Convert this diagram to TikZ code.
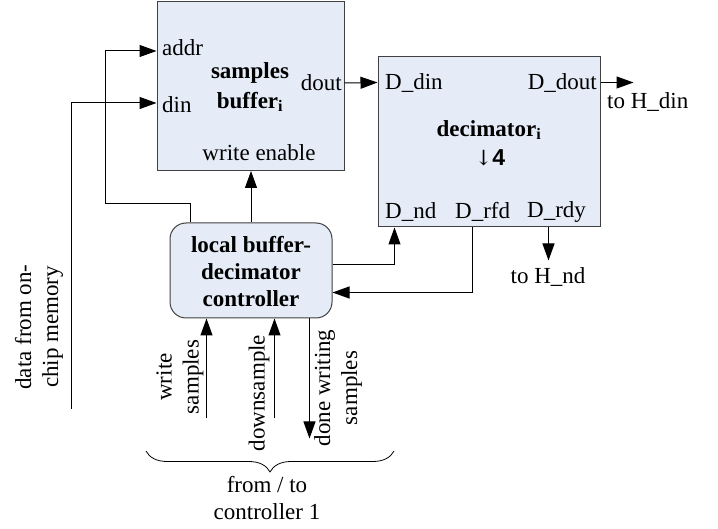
\documentclass[tikz,border=0pt]{standalone}
\usepackage{fontspec}
\setmainfont{Liberation Serif}
\newfontfamily\arialfont{Liberation Sans}
\newfontfamily\arrowfont{DejaVu Serif}
\usetikzlibrary{arrows.meta,calc,decorations.pathreplacing}
\definecolor{boxfill}{RGB}{230,236,247}
\definecolor{boxline}{RGB}{64,64,64}
\tikzset{
  x=1pt, y=-1pt,
  every node/.style={font=\fontsize{23}{27}\selectfont, inner sep=0pt},
  block/.style={draw=boxline, fill=boxfill, line width=1pt},
  wire/.style={draw=black, line width=1pt},
  arr/.style={wire, -{Triangle[length=17pt,width=12pt]}},
  lbl/.style={align=center},
}
\begin{document}
\begin{tikzpicture}
\useasboundingbox (0,0) rectangle (718,529);

% blocks
\node[block, minimum width=187pt, minimum height=169pt] (sb) at (250.5,86) {};
\node[block, minimum width=222pt, minimum height=170pt] (dec) at (489,142) {};
\node[block, rounded corners=16pt, minimum width=162pt, minimum height=95pt] (ctl) at (251,270.5) {};

% samples buffer text
\node[anchor=west] (sbaddr) at (162,48) {addr};
\node[anchor=west] (sbdin) at (162,105) {din};
\node[anchor=east] (sbdout) at (342,83) {dout};
\node[lbl, font=\fontsize{23}{30}\selectfont\bfseries] (sbname) at (250,87) {samples\\buffer\textsubscript{i}};
\node (sbwe) at (259,153) {write enable};

% decimator text
\node[anchor=west] (ddin) at (385,83) {D\_din};
\node[anchor=east] (ddout) at (597,83) {D\_dout};
\node[font=\fontsize{23}{27}\selectfont\bfseries] (dname) at (489,130) {decimator\textsubscript{i}};
\node (dfac) at (490,158) {{\arrowfont\fontsize{21}{27}\selectfont ↓}{\arialfont\bfseries 4}};
\node[anchor=west] (dnd) at (385,212) {D\_nd};
\node[anchor=west] (drfd) at (455,212) {D\_rfd};
\node[anchor=west] (drdy) at (527,212) {D\_rdy};

% controller text
\node[lbl, font=\fontsize{23}{27}\selectfont\bfseries] (cname) at (251,272) {local buffer-\\decimator\\controller};

% buffer connections
\coordinate (mem) at (71,409);
\draw[arr] ($(ctl.north west)+(21,0)$) |- (105,204) |- ($(sb.north west)+(0,50)$);
\draw[arr] (mem) |- ($(sb.north west)+(0,102)$);
\draw[arr] (ctl.north) -- (ctl.north |- sb.south);
\draw[arr] ($(sb.north east)+(0,82)$) -- ($(dec.north west)+(0,26)$);

% decimator connections
\draw[arr] ($(dec.north east)+(0,26)$) -- ++(33,0) coordinate (hdin);
\node[anchor=west] (hdinlbl) at (607,102) {to H\_din};
\draw[arr] ($(dec.south west)+(171,0)$) -- ++(0,33) coordinate (hnd);
\node (hndlbl) at (548,277) {to H\_nd};
\draw[arr] ($(ctl.north east)+(0,42)$) -| ($(dec.south west)+(17,0)$);
\draw[arr] ($(dec.south west)+(95,0)$) |- ($(ctl.north east)+(0,70)$);

% controller 1 interface
\draw[arr] ($(ctl.south west)+(37,100)$) -- ($(ctl.south west)+(37,0)$);
\draw[arr] ($(ctl.south west)+(105,100)$) -- ($(ctl.south west)+(105,0)$);
\draw[arr] ($(ctl.south west)+(140,0)$) -- ++(0,120);

\node[lbl, rotate=90] (lws) at (180,377) {write\\samples};
\node[lbl, rotate=90] (lds) at (259,393) {downsample};
\node[lbl, rotate=90] (ldw) at (338,388) {done writing\\samples};
\node[lbl, rotate=90] (lmem) at (39,327) {data from on-\\chip memory};

% brace
\draw[line width=0.8pt, decorate, decoration={brace, mirror, amplitude=21pt}] (146,451) -- (394,451);
\node[lbl] (c1) at (267,498) {from / to\\controller 1};
\end{tikzpicture}
\end{document}
